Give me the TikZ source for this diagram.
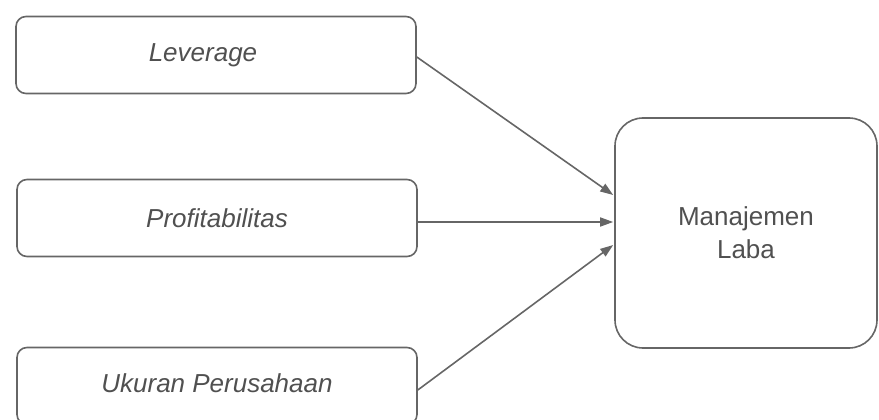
\documentclass[tikz,border=0pt]{standalone}
\usepackage{fontspec}
\setmainfont{Liberation Sans}
\usetikzlibrary{arrows.meta,calc}
\definecolor{linegray}{HTML}{666666}
\definecolor{textgray}{HTML}{505050}
\begin{document}
\begin{tikzpicture}[x=1pt,y=-1pt,
  varbox/.style={draw=linegray,line width=1.6pt,rounded corners=10pt,minimum width=400pt,minimum height=77pt,inner sep=0pt,text=textgray,font=\fontsize{26}{30}\selectfont\itshape},
  bigbox/.style={draw=linegray,line width=1.6pt,rounded corners=28pt,minimum width=262pt,minimum height=230pt,inner sep=0pt,align=center,text=textgray,font=\fontsize{26}{33}\selectfont},
  arr/.style={draw=linegray,line width=1.6pt,-{Triangle[length=13pt,width=9pt]}}]
\useasboundingbox (0,0) rectangle (879,420);
\node[varbox] (L) at (216,55) {Leverage\hspace*{26pt}};
\node[varbox] (P) at (217,218) {Profitabilitas};
\node[varbox] (U) at (217,386) {\raisebox{6pt}{Ukuran Perusahaan}};
\node[bigbox] (M) at (746,233) {Manajemen\\Laba};
\draw[arr] ($(L.east)+(0,2)$) -- ($(M.west)+(-1,-38)$);
\draw[arr] ($(P.east)+(0,4)$) -- ($(M.west)+(-1,-11)$);
\draw[arr] ($(U.east)+(0,4)$) -- ($(M.west)+(-1,12)$);
\end{tikzpicture}
\end{document}
